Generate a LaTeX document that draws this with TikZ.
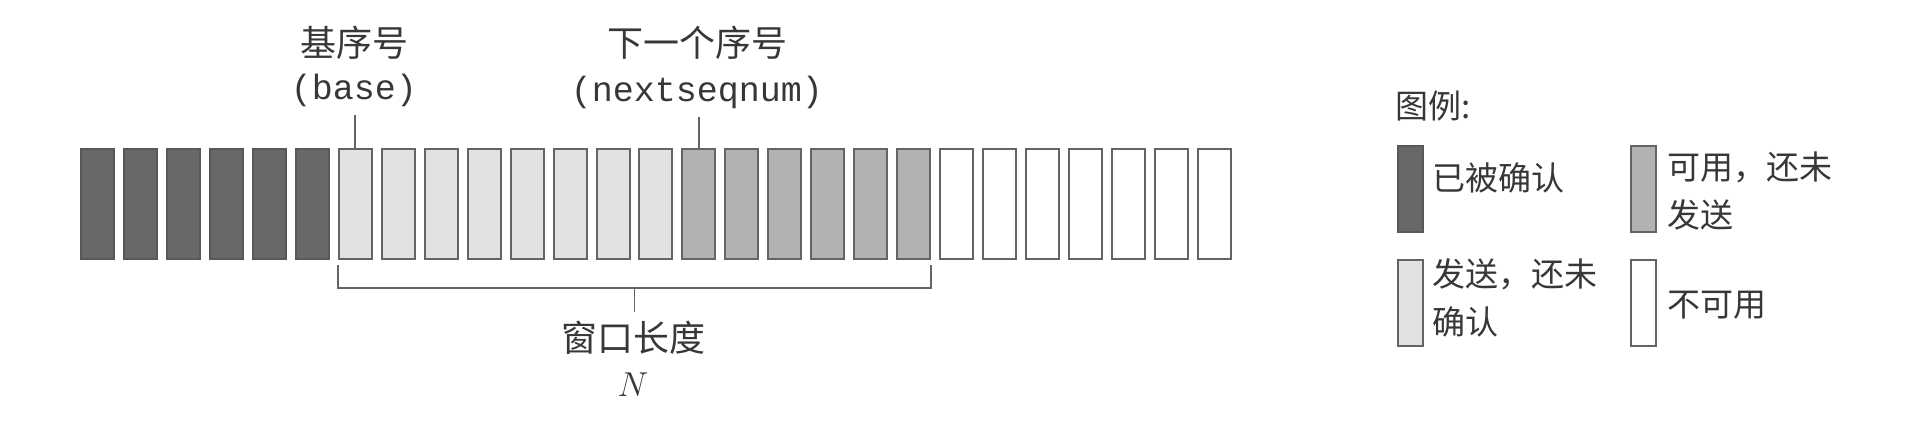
\documentclass[tikz,border=0pt]{standalone}
\usepackage{fontspec}
\setmonofont{Liberation Mono}
\newfontfamily\cjk{Noto Sans CJK SC}
\usetikzlibrary{calc}
\definecolor{darkfill}{RGB}{104,104,104}
\definecolor{midfill}{RGB}{178,178,178}
\definecolor{lightfill}{RGB}{226,226,226}
\definecolor{edgecol}{RGB}{100,100,100}
\definecolor{txt}{RGB}{55,55,55}
\tikzset{
  pkt/.style={draw=edgecol, line width=1pt, inner sep=0pt, minimum width=16.5pt, minimum height=55pt, anchor=north west},
  acked/.style={pkt, fill=darkfill, draw=darkfill!85!black},
  sentna/.style={pkt, fill=lightfill},
  usable/.style={pkt, fill=midfill},
  unusable/.style={pkt, fill=white},
  legbox/.style={draw=edgecol, line width=1pt, inner sep=0pt, minimum width=12.5pt, minimum height=43pt, anchor=north west},
  cjklabel/.style={text=txt, inner sep=0pt, font=\cjk\fontsize{18pt}{22pt}\selectfont},
  monolabel/.style={text=txt, inner sep=0pt, font=\ttfamily\fontsize{17.5pt}{21pt}\selectfont},
  legtext/.style={text=txt, inner sep=0pt, anchor=west, align=left, font=\cjk\fontsize{16.5pt}{24pt}\selectfont},
  conn/.style={draw=edgecol, line width=0.9pt}
}
\begin{document}
\begin{tikzpicture}[x=0.5pt, y=-0.5pt]
\useasboundingbox (0,0) rectangle (1914,424);
% packets
\foreach \i in {0,...,26}{
  \pgfmathsetmacro{\xx}{80+42.96*\i}
  \ifnum\i<6
    \node[acked] (b\i) at (\xx,148) {};
  \else\ifnum\i<14
    \node[sentna] (b\i) at (\xx,148) {};
  \else\ifnum\i<20
    \node[usable] (b\i) at (\xx,148) {};
  \else
    \node[unusable] (b\i) at (\xx,148) {};
  \fi\fi\fi
}
% base label
\node[cjklabel] (baselab) at (354,43) {基序号};
\node[monolabel] (basecode) at (354,90) {(base)};
\coordinate (basetop) at (b6.north |- 0,115);
\draw[conn] (b6.north) -- (basetop);
% nextseqnum label
\node[cjklabel] (nextlab) at (697,43) {下一个序号};
\node[monolabel] (nextcode) at (697,92) {(nextseqnum)};
\coordinate (nexttop) at (b14.north |- 0,117);
\draw[conn] (b14.north) -- (nexttop);
% bracket
\coordinate (brl) at (b6.south west |- 0,265);
\coordinate (brr) at (b19.south east |- 0,265);
\coordinate (brlb) at (b6.south west |- 0,288);
\coordinate (brrb) at (b19.south east |- 0,288);
\draw[conn] (brl) -- (brlb) -- (brrb) -- (brr);
\coordinate (brmid) at ($(brlb)!0.5!(brrb)$);
\coordinate (ticke) at ($(brmid)+(0,24)$);
\draw[conn] (brmid) -- (ticke);
\node[cjklabel] (winlab) at (633,338) {窗口长度};
\node[text=txt, inner sep=0pt, font=\fontsize{18pt}{22pt}\selectfont] (nlab) at (633,385) {$N$};
% legend
\node[text=txt, inner sep=0pt, anchor=west, font=\cjk\fontsize{16.5pt}{20pt}\selectfont] (legtitle) at (1395,106) {图例:};
\node[legbox, fill=darkfill, draw=darkfill!85!black] (lg1) at (1397,145) {};
\node[legtext] (lt1) at (1432,178) {已被确认};
\node[legbox, fill=midfill] (lg2) at (1630,145) {};
\node[legtext] (lt2) at (1667,191) {可用，还未\\发送};
\node[legbox, fill=lightfill] (lg3) at (1397,259) {};
\node[legtext] (lt3) at (1432,298) {发送，还未\\确认};
\node[legbox, fill=white] (lg4) at (1630,259) {};
\node[legtext] (lt4) at (1667,305) {不可用};
\end{tikzpicture}
\end{document}
